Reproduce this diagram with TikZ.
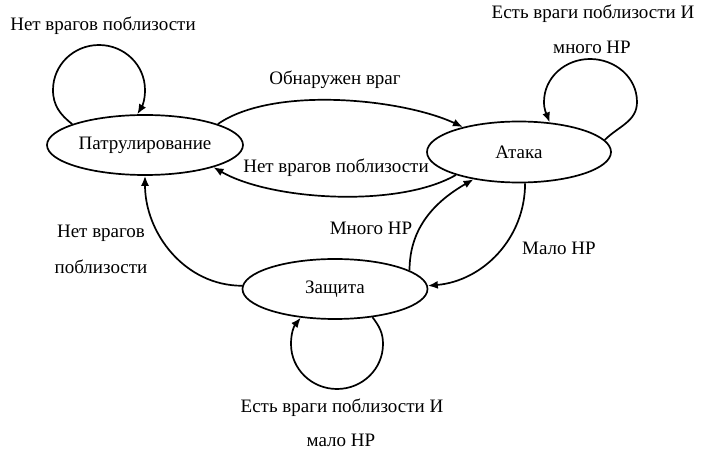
\documentclass[tikz,border=0pt]{standalone}
\usepackage{fontspec}
\setmainfont{Liberation Serif}
\usetikzlibrary{shapes.geometric,arrows.meta}
\begin{document}
\begin{tikzpicture}[x=1pt,y=1pt,
  font=\fontsize{19pt}{22pt}\selectfont,
  state/.style={ellipse,draw,line width=1.7pt,inner sep=0pt},
  edge/.style={line width=1.7pt,-{Latex[length=10pt,width=8pt]}},
  lbl/.style={inner sep=0pt,anchor=center}]
\useasboundingbox (0,0) rectangle (702,-457);
\node[state,minimum width=196pt,minimum height=60pt] (p) at (145,-145) {Патрулирование};
\node[state,minimum width=184pt,minimum height=61pt] (a) at (519,-152) {Атака};
\node[state,minimum width=185pt,minimum height=60pt] (z) at (335,-289) {Защита};
% self loop patrol
\coordinate (pl1) at (53,-90);
\coordinate (pl2) at (99,-45);
\coordinate (pl3) at (145,-90);
\draw[edge] (p.164) to[out=142,in=270] (pl1) to[out=90,in=180] (pl2) to[out=0,in=90] (pl3) to[out=270,in=59] (p.104);
% self loop attack
\coordinate (al1) at (637,-102);
\coordinate (al2) at (590,-59);
\coordinate (al3) at (544,-102);
\draw[edge] (a.8) to[out=45,in=270] (al1) to[out=90,in=0] (al2) to[out=180,in=90] (al3) to[out=270,in=110] (a.44);
% self loop defence
\coordinate (zl1) at (383,-344);
\coordinate (zl2) at (337,-389);
\coordinate (zl3) at (291,-344);
\draw[edge] (z.-37) to[out=-53,in=90] (zl1) to[out=270,in=0] (zl2) to[out=180,in=270] (zl3) to[out=90,in=231] (z.220.5);
% transitions
\draw[edge] (p.16) to[out=35,in=155,looseness=0.7] (a.156);
\draw[edge] (a.200) to[out=210,in=-30,looseness=0.7] (p.-18);
\draw[edge] (z.14) to[out=90,in=210] (a.211.5);
\draw[edge] (a.281) to[out=270,in=5] (z.2);
\draw[edge] (z.178.5) to[out=180,in=270] (p.270);
% labels
\node[lbl] (t1) at (103,-26) {Нет врагов поблизости};
\node[lbl] (t2) at (335,-80) {Обнаружен враг};
\node[lbl] (t3) at (336,-168) {Нет врагов поблизости};
\node[lbl] (t4a) at (593,-14) {Есть враги поблизости И};
\node[lbl] (t4b) at (592,-47) {много HP};
\node[lbl] (t5) at (371,-228) {Много HP};
\node[lbl] (t6) at (559,-248) {Мало HP};
\node[lbl] (t7a) at (101,-233) {Нет врагов};
\node[lbl] (t7b) at (101,-267) {поблизости};
\node[lbl] (t8a) at (342,-408) {Есть враги поблизости И};
\node[lbl] (t8b) at (341,-440) {мало HP};
\end{tikzpicture}
\end{document}
